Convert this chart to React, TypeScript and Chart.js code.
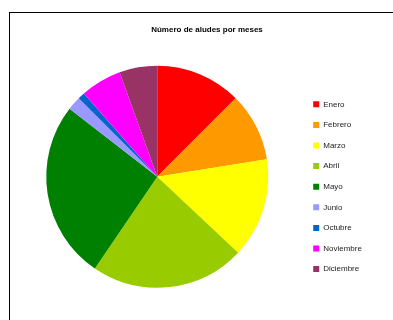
import { useEffect, useRef } from 'react';
import { Chart, registerables } from 'chart.js';

Chart.register(...registerables);

const categories = ['Enero', 'Febrero', 'Marzo', 'Abril', 'Mayo', 'Junio', 'Octubre', 'Noviembre', 'Diciembre'];
const avalanches = [25, 20, 29, 45, 52, 4, 2, 12, 11];
const sliceColors = ['#FF0000', '#FF9900', '#FFFF00', '#99CC00', '#008000', '#9999FF', '#0066CC', '#FF00FF', '#993366'];
const chartTitle = 'Número de aludes por meses';

const FONT = "'Liberation Sans', Arial, sans-serif";

export default function App() {
  const ref = useRef<HTMLCanvasElement>(null);

  useEffect(() => {
    const chart = new Chart(ref.current!, {
      type: 'pie',
      data: {
        labels: categories,
        datasets: [
          {
            data: avalanches,
            backgroundColor: sliceColors,
            borderWidth: 0,
          },
        ],
      },
      options: {
        responsive: false,
        animation: false,
        layout: { padding: { left: 13.9, right: 9.9, top: 0, bottom: 32.3 } },
        plugins: {
          title: {
            display: true,
            text: chartTitle,
            color: '#000',
            font: { family: FONT, size: 8, weight: 'bold' },
            padding: { top: 25.2, bottom: 30.9 },
          },
          subtitle: {
            display: true,
            text: '',
            position: 'right',
            fullSize: false,
            font: { size: 1 },
            padding: { top: 0, bottom: 27 },
          },
          legend: {
            position: 'right',
            align: 'center',
            fullSize: false,
            title: { display: true, text: '', font: { size: 10 }, padding: { top: 8, bottom: 0 } },
            labels: {
              boxWidth: 6,
              boxHeight: 6,
              padding: 12.6,
              color: '#222',
              font: { family: FONT, size: 8 },
            },
          },
          tooltip: { enabled: false },
        },
      },
    });
    return () => chart.destroy();
  }, []);

  return (
    <div style={{ position: 'fixed', left: 0, top: 0, width: 393, height: 320, overflow: 'hidden', background: '#fff' }}>
      <canvas ref={ref} width={410} height={320} style={{ width: 410, height: 320, display: 'block' }} />
      <div
        style={{
          position: 'absolute',
          left: 9,
          top: 12,
          width: 500,
          height: 500,
          borderLeft: '1.5px solid #000',
          borderTop: '1.5px solid #000',
          pointerEvents: 'none',
        }}
      />
    </div>
  );
}
